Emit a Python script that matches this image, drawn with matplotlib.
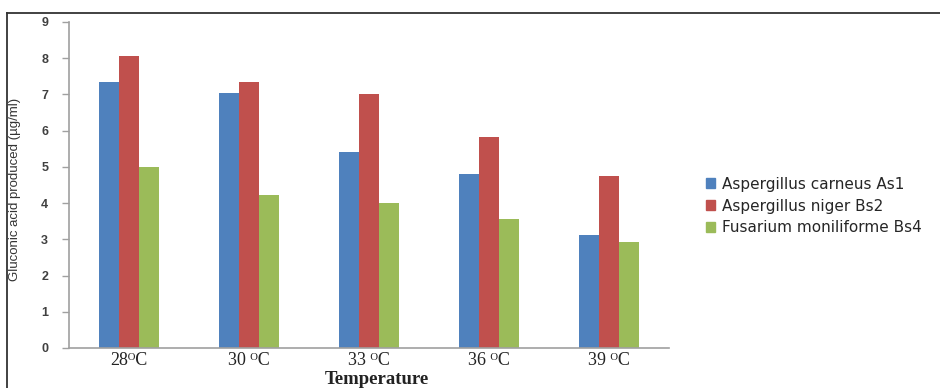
import matplotlib
matplotlib.use("Agg")
import matplotlib.pyplot as plt
import numpy as np
from matplotlib.lines import Line2D

categories = ["28\u1d3cC", "30 \u1d3cC", "33 \u1d3cC", "36 \u1d3cC", "39 \u1d3cC"]
series_names = ["Aspergillus carneus As1", "Aspergillus niger Bs2", "Fusarium moniliforme Bs4"]
carneus = [7.35, 7.05, 5.42, 4.80, 3.12]
niger = [8.05, 7.35, 7.00, 5.82, 4.75]
fusarium = [5.00, 4.22, 4.00, 3.55, 2.92]
yticks = list(range(0, 10))
colors = ["#4F81BD", "#C0504D", "#9BBB59"]

W, H = 940, 388
fig = plt.figure(figsize=(W/100, H/100), dpi=100)
ax = fig.add_axes([69/W, (H-348)/H, 600/W, 326/H])

x = np.arange(len(categories))
bw = 0.165
for i, (vals, c, name) in enumerate(zip([carneus, niger, fusarium], colors, series_names)):
    ax.bar(x + (i-1)*bw, vals, width=bw, color=c, label=name, edgecolor='none')

ax.set_xlim(-0.5, 4.5)
ax.set_ylim(0, 9)
ax.set_yticks(yticks)
ax.set_yticklabels([str(t) for t in yticks], fontsize=9, fontweight='bold', color='#404040', family='Liberation Sans')
ax.set_xticks(x)
ax.set_xticklabels(categories, fontsize=13, family=['Liberation Serif', 'DejaVu Serif', 'DejaVu Sans'], color='#222222')
ax.tick_params(axis='x', length=0, pad=3)
ax.tick_params(axis='y', length=5, color='#A0A0A0', width=1, pad=10)
for s in ['top', 'right']:
    ax.spines[s].set_visible(False)
for s in ['left', 'bottom']:
    ax.spines[s].set_color('#A0A0A0')
    ax.spines[s].set_linewidth(1.2)

ax.set_ylabel("Gluconic acid produced (\u00b5g/ml)", fontsize=9.5, color='#333333', family='Liberation Sans')
ax.yaxis.set_label_coords(-48/600, 0.485)
fig.text(377/W, 0.5/H, "Temperature", fontsize=13.5, family='Liberation Serif', fontweight='bold', color='#222222', ha='center', va='bottom')

leg = fig.legend(handles=[plt.Rectangle((0, 0), 1, 1, color=c) for c in colors], labels=series_names,
                 loc='center left', bbox_to_anchor=(692/W, (H-206)/H), frameon=False,
                 prop={'family': 'DejaVu Sans', 'size': 11}, handlelength=0.6, handleheight=0.6,
                 handletextpad=0.45, labelspacing=0.45)
for t in leg.get_texts():
    t.set_color('#262626')

# frame lines (top and left)
fig.add_artist(Line2D([7/W, 1], [(H-13)/H, (H-13)/H], color='#333333', lw=1.3, transform=fig.transFigure))
fig.add_artist(Line2D([7/W, 7/W], [0, (H-13)/H], color='#333333', lw=1.3, transform=fig.transFigure))

fig.savefig("out.png", dpi=100)
